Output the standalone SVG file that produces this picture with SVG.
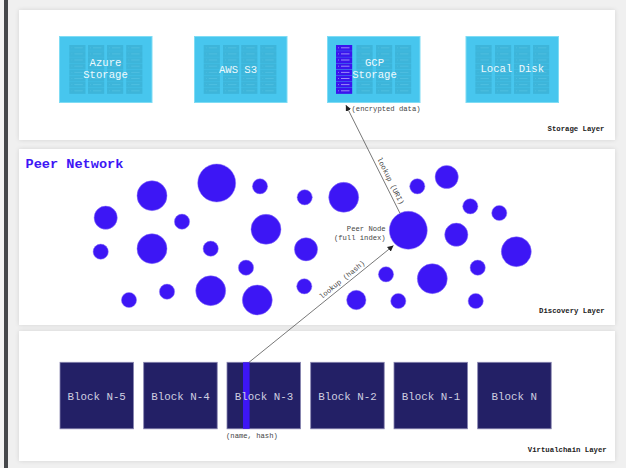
<svg xmlns="http://www.w3.org/2000/svg" width="626" height="468" viewBox="0 0 626 468">
<defs>
<style>
text{font-family:"Liberation Mono","DejaVu Sans Mono",monospace}
.panel{fill:#fff;filter:url(#sh)}
.box{fill:#47c6ee;stroke:#7fdcf4;stroke-width:1}
.blk{fill:#232066;stroke:#8583ae;stroke-width:.8}
.peer{fill:#3d16f5;stroke:#8f7bf8;stroke-width:.5}
.lbl{fill:#eef9fd;font-size:10.6px;text-anchor:middle}
.blbl{fill:#cfcfe0;font-size:10.8px;text-anchor:middle}
.small{fill:#444;font-size:7.2px}
.layer{fill:#222;font-size:7.3px;font-weight:bold;text-anchor:end}
.conn{stroke:#555;stroke-width:.8;fill:none;marker-end:url(#arr)}
.cell{fill:#3db5da}
.cellh{fill:#3a14ee}
.ln{stroke:#5ac5e4;stroke-width:.6}
.lnh{stroke:#c9c0fb;stroke-width:.7}
</style>
<filter id="sh" x="-3%" y="-6%" width="106%" height="112%"><feDropShadow dx="0" dy="0" stdDeviation="2" flood-color="#000" flood-opacity=".12"/></filter>
<marker id="arr" viewBox="0 0 10 10" refX="9.5" refY="5" markerWidth="6" markerHeight="6" markerUnits="userSpaceOnUse" orient="auto"><path d="M0 0L10 5L0 10Z" fill="#222"/></marker>
<g id="row"><rect width="16.2" height="5.85" class="cell"/><path d="M2.2 2.8h.8M5 2.8h8.5" class="ln"/></g>
<g id="rowh"><rect width="16.2" height="5.85" class="cellh"/><path d="M2.2 2.8h.8M5 2.8h8.5" class="lnh"/></g>
<g id="rack"><use href="#row"/><use href="#row" y="6.1"/><use href="#row" y="12.2"/><use href="#row" y="18.4"/><use href="#row" y="24.6"/><use href="#row" y="30.7"/><use href="#row" y="36.8"/><use href="#row" y="43"/></g>
<g id="rackh"><use href="#rowh"/><use href="#rowh" y="6.1"/><use href="#rowh" y="12.2"/><use href="#rowh" y="18.4"/><use href="#rowh" y="24.6"/><use href="#rowh" y="30.7"/><use href="#rowh" y="36.8"/><use href="#rowh" y="43"/></g>
</defs>
<rect width="626" height="468" fill="#f0f0f0"/>
<rect x="0" width="4" height="468" fill="#f4f4f4"/>
<rect x="4" width="4" height="468" fill="#46484b"/>
<g id="layers">
<rect class="panel" x="19" y="10" width="596" height="130"/>
<rect class="panel" x="19" y="149" width="596" height="176"/>
<rect class="panel" x="19" y="331" width="596" height="130"/>
</g>
<g id="azure"><rect class="box" x="59.5" y="36.5" width="92.5" height="66"/>
<use href="#rack" x="69.3" y="45"/><use href="#rack" x="88" y="45"/><use href="#rack" x="107" y="45"/><use href="#rack" x="126.2" y="45"/>
<text class="lbl" x="105.5" y="66">Azure</text><text class="lbl" x="105.5" y="78">Storage</text></g>
<g id="aws"><rect class="box" x="194.5" y="36.5" width="92.5" height="66"/>
<use href="#rack" x="203.7" y="45"/><use href="#rack" x="223" y="45"/><use href="#rack" x="241.2" y="45"/><use href="#rack" x="260.2" y="45"/>
<text class="lbl" x="238" y="72.5">AWS S3</text></g>
<g id="gcp"><rect class="box" x="327.5" y="36.5" width="92.5" height="66"/>
<use href="#rackh" x="336" y="45"/><use href="#rack" x="356.4" y="45"/><use href="#rack" x="376" y="45"/><use href="#rack" x="395" y="45"/>
<text class="lbl" x="374.5" y="66">GCP</text><text class="lbl" x="374.5" y="78">Storage</text></g>
<g id="local"><rect class="box" x="466" y="36.5" width="92.5" height="66"/>
<use href="#rack" x="475.4" y="45"/><use href="#rack" x="495" y="45"/><use href="#rack" x="514" y="45"/><use href="#rack" x="533" y="45"/>
<text class="lbl" x="512.3" y="72">Local Disk</text></g>
<text class="small" x="351.5" y="111">(encrypted data)</text>
<text class="layer" x="604.5" y="131">Storage Layer</text>
<text x="25.5" y="167.5" fill="#3d16f5" font-size="13.6" font-weight="bold">Peer Network</text>
<g id="peers">
<circle class="peer" cx="152" cy="195.7" r="15"/><circle class="peer" cx="216.7" cy="183" r="19"/><circle class="peer" cx="260" cy="186.3" r="7.6"/><circle class="peer" cx="304.7" cy="197.3" r="7.6"/><circle class="peer" cx="105.7" cy="217.7" r="11.6"/><circle class="peer" cx="182" cy="221.7" r="7.6"/><circle class="peer" cx="266" cy="229.3" r="15"/><circle class="peer" cx="100.7" cy="251.7" r="7.6"/><circle class="peer" cx="152" cy="248.7" r="15"/><circle class="peer" cx="210.7" cy="248.7" r="7.6"/><circle class="peer" cx="306" cy="249.3" r="11.6"/><circle class="peer" cx="246" cy="267.7" r="7.6"/><circle class="peer" cx="129" cy="300" r="7.6"/><circle class="peer" cx="167" cy="291.7" r="7.6"/><circle class="peer" cx="210.7" cy="290.7" r="15"/><circle class="peer" cx="257.3" cy="300" r="15"/><circle class="peer" cx="304.3" cy="286.3" r="7.6"/><circle class="peer" cx="343.7" cy="197.3" r="15"/><circle class="peer" cx="417.3" cy="186.3" r="7.6"/><circle class="peer" cx="446.7" cy="177" r="11.6"/><circle class="peer" cx="470.3" cy="206.3" r="7.6"/><circle class="peer" cx="499.3" cy="213" r="7.6"/><circle class="peer" cx="456.3" cy="234.7" r="11.6"/><circle class="peer" cx="516.3" cy="251.7" r="15"/><circle class="peer" cx="477.7" cy="267.7" r="7.6"/><circle class="peer" cx="386" cy="274.3" r="7.6"/><circle class="peer" cx="432.3" cy="278.7" r="15"/><circle class="peer" cx="356.3" cy="300" r="9.7"/><circle class="peer" cx="398.3" cy="301" r="7.6"/><circle class="peer" cx="475.7" cy="301" r="7.6"/>
</g>
<g id="peer-node"><circle class="peer" cx="408.3" cy="230.3" r="19"/>
<text class="small" x="385.7" y="231" text-anchor="end">Peer Node</text><text class="small" x="385.7" y="240" text-anchor="end">(full index)</text></g>
<text class="layer" x="604.7" y="312.7">Discovery Layer</text>
<g id="block-n5"><rect class="blk" x="60" y="362.3" width="73.5" height="66.5"/><text class="blbl" x="96.7" y="400">Block N-5</text></g>
<g id="block-n4"><rect class="blk" x="143.7" y="362.3" width="73.5" height="66.5"/><text class="blbl" x="180.5" y="400">Block N-4</text></g>
<g id="block-n3"><rect class="blk" x="227" y="362.3" width="73.5" height="66.5"/><rect x="243" y="362.3" width="6.6" height="66.5" fill="#3d16f5"/><text class="blbl" x="264" y="400">Block N-3</text></g>
<g id="block-n2"><rect class="blk" x="310.7" y="362.3" width="73.5" height="66.5"/><text class="blbl" x="347.5" y="400">Block N-2</text></g>
<g id="block-n1"><rect class="blk" x="394" y="362.3" width="73.5" height="66.5"/><text class="blbl" x="431" y="400">Block N-1</text></g>
<g id="block-n"><rect class="blk" x="477.7" y="362.3" width="73.5" height="66.5"/><text class="blbl" x="514.3" y="400">Block N</text></g>
<text class="small" x="226" y="438">(name, hash)</text>
<text class="layer" x="606.7" y="452">Virtualchain Layer</text>
<g id="connectors">
<path class="conn" d="M249 362.3L393.3 245.7"/>
<path class="conn" d="M400 213.3L346 105.3"/>
<text class="small" text-anchor="middle" transform="translate(343.5 281.5) rotate(-39)">lookup (hash)</text>
<text class="small" text-anchor="middle" transform="translate(388.5 182) rotate(63.4)">lookup (URI)</text>
</g>
</svg>
